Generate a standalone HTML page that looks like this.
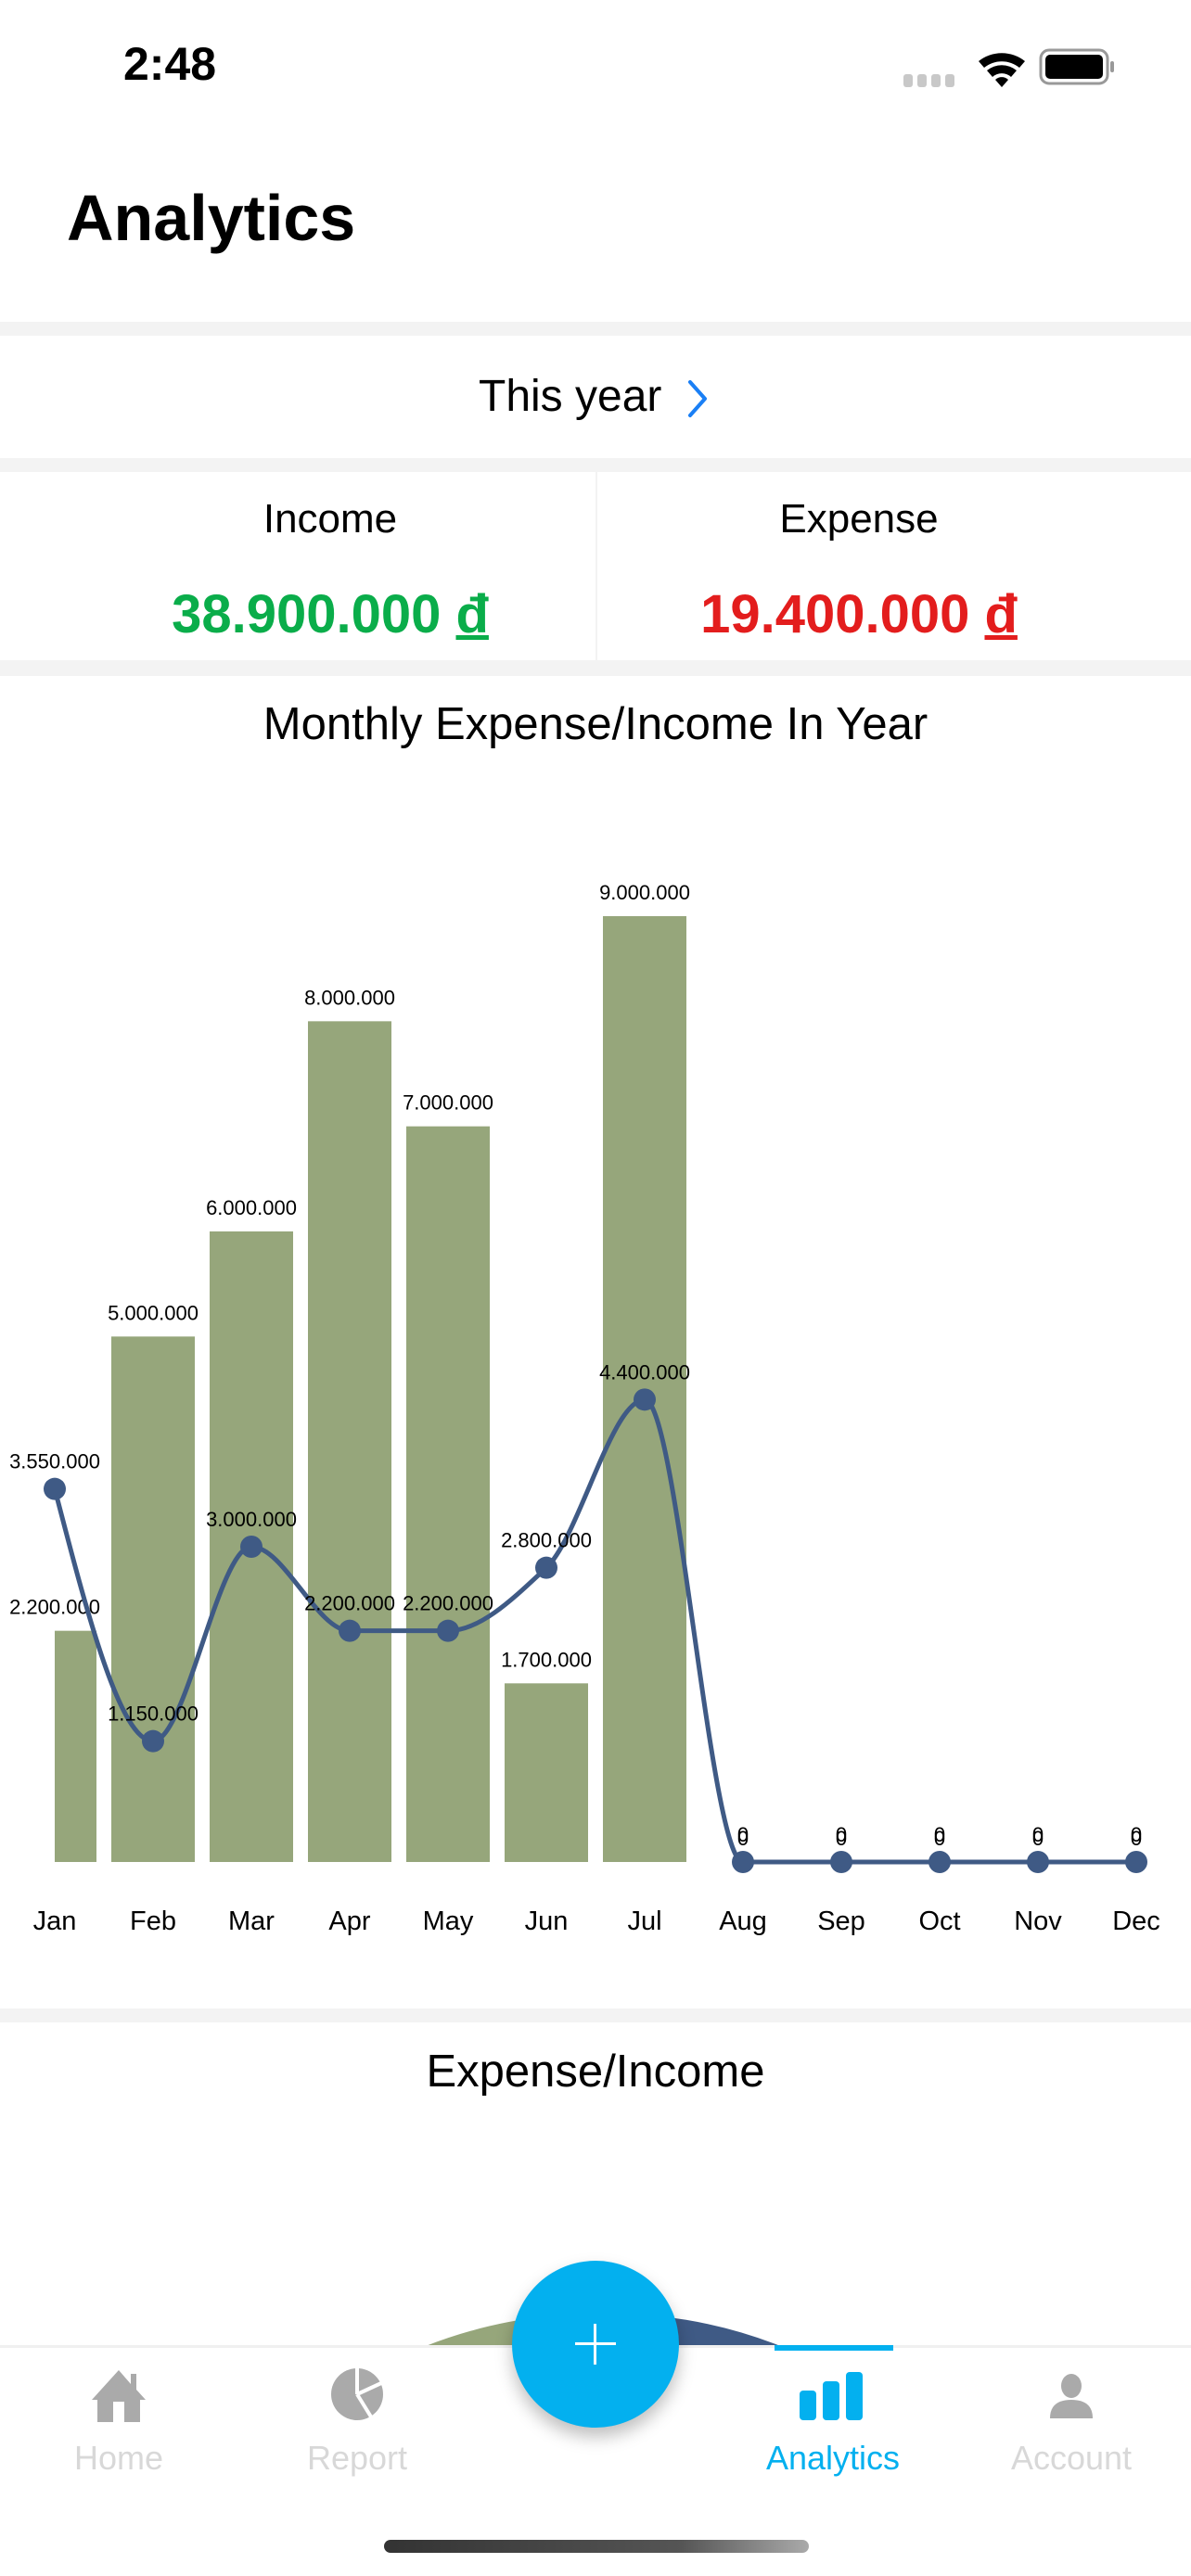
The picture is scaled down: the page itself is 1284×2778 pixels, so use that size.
<!DOCTYPE html>
<html><head><meta charset="utf-8"><style>
*{margin:0;padding:0;box-sizing:border-box}
html{overflow:hidden;width:1284px;height:2778px}
body{width:1284px;height:2778px;position:relative;background:#fff;font-family:"Liberation Sans",sans-serif;overflow:hidden}
.a{position:absolute}
.sep{position:absolute;left:0;width:1284px;background:#f3f3f3}
.c{text-align:center}
</style></head><body>
<div class="a" style="left:133px;top:40px;font-size:50px;font-weight:bold;">2:48</div>
<svg class="a" style="left:960px;top:48px" width="250" height="50">
<g fill="#c8c8c8"><rect x="14" y="32" width="10" height="14" rx="3"/><rect x="29" y="32" width="10" height="14" rx="3"/><rect x="44" y="32" width="10" height="14" rx="3"/><rect x="59" y="32" width="10" height="14" rx="3"/></g>
<path d="M95 18 A40 40 0 0 1 145 18 L139 25 A30 30 0 0 0 101 25Z M104 28 A25 25 0 0 1 136 28 L130 35 A15 15 0 0 0 110 35Z M113 38 A10 10 0 0 1 127 38 L120 46Z" fill="#000"/>
<rect x="162" y="6" width="72" height="36" rx="9" fill="none" stroke="#999" stroke-width="3"/>
<rect x="167" y="11" width="62" height="26" rx="5" fill="#000"/>
<rect x="237" y="18" width="4" height="12" rx="2" fill="#999"/>
</svg>
<div class="a" style="left:72px;top:195px;font-size:70px;font-weight:bold;">Analytics</div>
<div class="sep" style="top:347px;height:15px"></div>
<div class="a" style="left:516px;top:400px;font-size:48px;white-space:nowrap">This year</div>
<svg class="a" style="left:738px;top:408px" width="30" height="44"><path d="M6 4 L22 22 L6 40" fill="none" stroke="#1a7ff5" stroke-width="4" stroke-linecap="round" stroke-linejoin="round"/></svg>
<div class="sep" style="top:494px;height:15px"></div>
<div class="a" style="left:642px;top:509px;width:2px;height:203px;background:#f3f3f3"></div>
<div class="a c" style="left:56px;top:535px;width:600px;font-size:44px;">Income</div>
<div class="a c" style="left:56px;top:629px;width:600px;font-size:58px;font-weight:bold;color:#0aad4a;">38.900.000 <u>đ</u></div>
<div class="a c" style="left:626px;top:535px;width:600px;font-size:44px;">Expense</div>
<div class="a c" style="left:626px;top:629px;width:600px;font-size:58px;font-weight:bold;color:#e31d1d;">19.400.000 <u>đ</u></div>
<div class="sep" style="top:712px;height:17px"></div>
<div class="a c" style="left:0;top:753px;width:1284px;font-size:49px;">Monthly Expense/Income In Year</div>
<svg id="chart" class="a" style="left:0;top:0" width="1284" height="2160"></svg>
<div class="sep" style="top:2166px;height:15px"></div>
<div class="a c" style="left:0;top:2206px;width:1284px;font-size:49px;">Expense/Income</div>
<svg class="a" style="left:0;top:2400px" width="1284" height="130">
<path d="M642 600 L642 95 A505 505 0 0 0 300 230Z" fill="#96a67b"/>
<path d="M642 600 L642 95 A505 505 0 0 1 1000 230Z" fill="#3f5a85"/>
</svg>
<div class="a" style="left:0;top:2529px;width:1284px;height:249px;background:#fff;border-top:3px solid #f0f0f0"></div>
<div class="a" style="left:835px;top:2529px;width:128px;height:6px;background:#03b0ef"></div>
<svg class="a" style="left:95px;top:2552px" width="66" height="62"><path d="M33 4 L4 36 L10 36 L10 60 L56 60 L56 36 L62 36 L52 25 L52 8 L46 8 L46 19Z" fill="#aaa"/><rect x="27" y="38" width="12" height="22" fill="#fff"/></svg>
<svg class="a" style="left:355px;top:2552px" width="60" height="60"><circle cx="30" cy="30" r="28" fill="#aaa"/><path d="M30 30 L30 0 M30 30 L56 18 M30 30 L46 56" stroke="#fff" stroke-width="4"/></svg>
<svg class="a" style="left:862px;top:2558px" width="70" height="52"><rect x="0" y="20" width="18" height="32" rx="4" fill="#03b0ef"/><rect x="25" y="10" width="18" height="42" rx="4" fill="#03b0ef"/><rect x="50" y="0" width="18" height="52" rx="4" fill="#03b0ef"/></svg>
<svg class="a" style="left:1130px;top:2560px" width="50" height="50"><ellipse cx="25" cy="13" rx="11" ry="13" fill="#aaa"/><path d="M2 48 Q2 28 25 28 Q48 28 48 48Z" fill="#aaa"/></svg>
<div class="a c" style="left:48px;top:2630px;width:160px;font-size:36px;color:#d8d8d8">Home</div>
<div class="a c" style="left:305px;top:2630px;width:160px;font-size:36px;color:#d8d8d8">Report</div>
<div class="a c" style="left:808px;top:2630px;width:180px;font-size:36px;color:#03b0ef">Analytics</div>
<div class="a c" style="left:1065px;top:2630px;width:180px;font-size:36px;color:#d8d8d8">Account</div>
<div class="a" style="left:552px;top:2438px;width:180px;height:180px;border-radius:50%;background:#03b0ef;box-shadow:0 10px 18px rgba(0,0,0,0.25);border:0"></div>
<div class="a" style="left:620px;top:2526px;width:44px;height:3px;background:#fff"></div>
<div class="a" style="left:640px;top:2506px;width:3px;height:44px;background:#fff"></div>
<div class="a" style="left:414px;top:2739px;width:458px;height:14px;border-radius:7px;background:linear-gradient(90deg,#333,#555 70%,#aaa)"></div>
<script>
const months=["Jan","Feb","Mar","Apr","May","Jun","Jul","Aug","Sep","Oct","Nov","Dec"];
const expense=[2200000,5000000,6000000,8000000,7000000,1700000,9000000,0,0,0,0,0];
const income=[3550000,1150000,3000000,2200000,2200000,2800000,4400000,0,0,0,0,0];
const svg=document.getElementById('chart');
const NS='http://www.w3.org/2000/svg';
const x0=59,dx=106,base=2008,maxV=9000000,hPx=1020,barW=90;
function xs(i){return x0+i*dx;}
function ys(v){return base-v/maxV*hPx;}
function fmt(v){return v===0?"0":v.toLocaleString('de-DE');}
function mk(t,a){const e=document.createElementNS(NS,t);for(const k in a)e.setAttribute(k,a[k]);svg.appendChild(e);return e;}
expense.forEach((v,i)=>{
  let l=xs(i)-barW/2,r=xs(i)+barW/2; if(l<x0)l=x0;
  if(v>0){const b=mk('rect',{x:l,y:ys(v),width:r-l,height:base-ys(v),fill:'#96a67b'});
  
  }
  const t=mk('text',{x:xs(i),y:ys(v)-18,'text-anchor':'middle','font-size':22,fill:'#000'});t.textContent=fmt(v);
  
  
});
const P=income.map((v,i)=>[xs(i),ys(v)]);
const n=P.length,sl=[],m=[];
for(let i=0;i<n-1;i++)sl.push((P[i+1][1]-P[i][1])/(P[i+1][0]-P[i][0]));
for(let i=0;i<n;i++){if(i===0||i===n-1)m.push(0);else{const a=sl[i-1],b=sl[i];m.push(a*b<=0?0:(2*a*b)/(a+b));}}
m[0]=sl[0]*1.5-m[1]*0.5;m[n-1]=sl[n-2]*1.5-m[n-2]*0.5;
if(sl[0]*m[0]<=0)m[0]=0;if(sl[n-2]*m[n-1]<=0)m[n-1]=0;
let d='M'+P[0][0]+','+P[0][1];
for(let i=0;i<n-1;i++){const h=(P[i+1][0]-P[i][0])/3;d+=' C'+(P[i][0]+h)+','+(P[i][1]+m[i]*h)+' '+(P[i+1][0]-h)+','+(P[i+1][1]-m[i+1]*h)+' '+P[i+1][0]+','+P[i+1][1];}
const ln=mk('path',{d:d,fill:'none',stroke:'#3f5a85','stroke-width':5});


income.forEach((v,i)=>{
  const c=mk('circle',{cx:xs(i),cy:ys(v),r:12,fill:'#3f5a85'});
  
  
  const t=mk('text',{x:xs(i),y:ys(v)-22,'text-anchor':'middle','font-size':22,fill:'#000'});t.textContent=fmt(v);
  
  
});
months.forEach((mo,i)=>{
  const t=mk('text',{x:xs(i),y:2081,'text-anchor':'middle','font-size':29,fill:'#000'});t.textContent=mo;
  
  
});
</script>
</body></html>
